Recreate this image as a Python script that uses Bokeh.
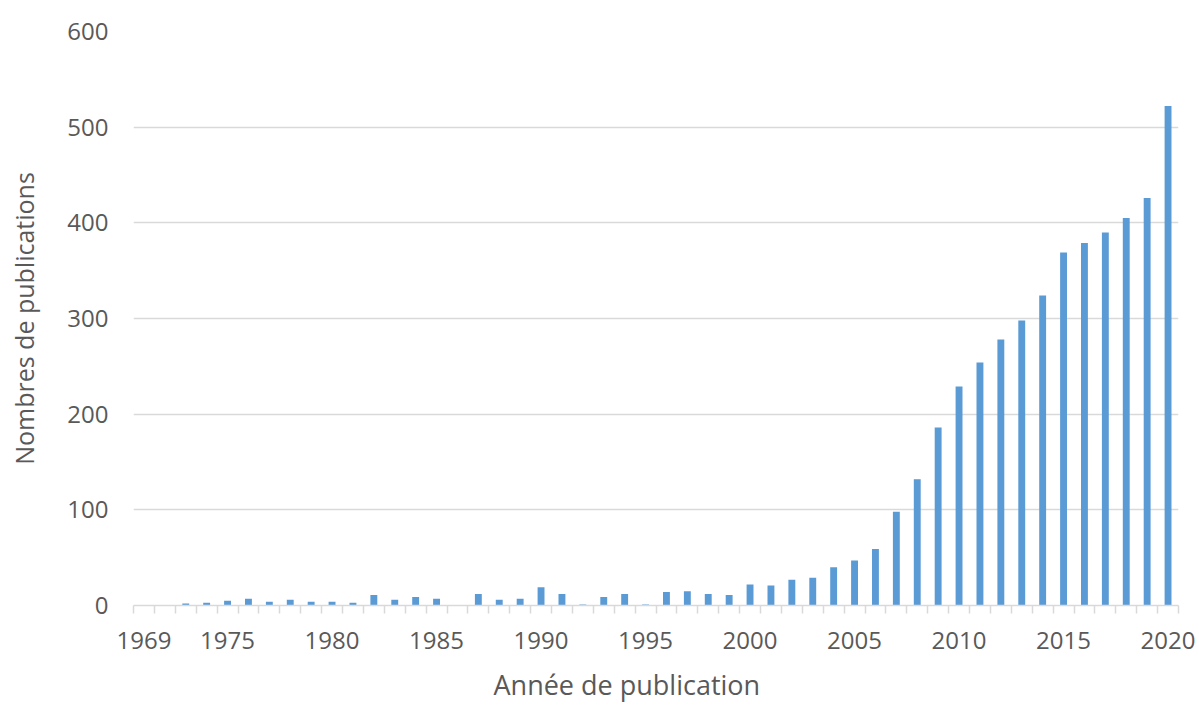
from bokeh.plotting import figure
from bokeh.models import Range1d, FixedTicker, ColumnDataSource, Title
from bokeh.embed import file_html
from bokeh.resources import INLINE

# ---- data ----
years = [1969, 1972, 1973, 1974, 1975, 1976, 1977, 1978, 1979, 1980,
         1981, 1982, 1983, 1984, 1985, 1986, 1987, 1988, 1989, 1990,
         1991, 1992, 1993, 1994, 1995, 1996, 1997, 1998, 1999, 2000,
         2001, 2002, 2003, 2004, 2005, 2006, 2007, 2008, 2009, 2010,
         2011, 2012, 2013, 2014, 2015, 2016, 2017, 2018, 2019, 2020]
counts = [0, 0, 2, 3, 5, 7, 4, 6, 4, 4,
          3, 11, 6, 9, 7, 0, 12, 6, 7, 19,
          12, 1, 9, 12, 1, 14, 15, 12, 11, 22,
          21, 27, 29, 40, 47, 59, 98, 132, 186, 229,
          254, 278, 298, 324, 369, 379, 390, 405, 426, 522]
labeled_years = [1969, 1975, 1980, 1985, 1990, 1995, 2000, 2005, 2010, 2015, 2020]
y_ticks = [0, 100, 200, 300, 400, 500, 600]

FONT = "Open Sans"
TXT = "#595959"
GRID = "#D9D9D9"
BAR = "#5B9BD5"

idx = list(range(len(years)))
src = ColumnDataSource(data=dict(x=idx, top=counts, year=[str(y) for y in years]))

p = figure(width=1195, height=714, output_backend="svg", toolbar_location=None,
           x_range=Range1d(-0.5, len(years) - 0.5), y_range=Range1d(0, 600),
           min_border_left=133, min_border_right=17, min_border_top=31,
           min_border_bottom=109)
p.outline_line_color = None
p.background_fill_color = "white"
p.border_fill_color = "white"

p.vbar(x="x", top="top", width=0.33, bottom=0, source=src, color=BAR, line_color=None)

# x axis
tick_pos = [years.index(y) for y in labeled_years]
p.xaxis.ticker = FixedTicker(ticks=tick_pos, minor_ticks=[i - 0.5 for i in range(len(years) + 1)])
p.xaxis.major_label_overrides = {i: str(years[i]) for i in tick_pos}
p.xaxis.major_tick_out = 0
p.xaxis.major_tick_in = 0
p.xaxis.minor_tick_out = 8
p.xaxis.minor_tick_in = 0
p.xaxis.minor_tick_line_color = GRID
p.xaxis.minor_tick_line_width = 1.5
p.xaxis.axis_line_color = GRID
p.xaxis.axis_line_width = 1.5
p.xaxis.major_label_text_font = FONT
p.xaxis.major_label_text_font_size = "24px"
p.xaxis.major_label_text_color = TXT
p.xaxis.major_label_standoff = 18
p.xgrid.grid_line_color = None

# x axis title (left of centre, as in the original)
p.add_layout(Title(text="Année de publication", align="left", offset=360,
                   vertical_align="bottom",
                   text_font=FONT, text_font_size="27px", text_font_style="normal",
                   text_color=TXT, standoff=24), "below")

# y axis
p.yaxis.ticker = FixedTicker(ticks=y_ticks)
p.yaxis.axis_line_color = None
p.yaxis.major_tick_line_color = None
p.yaxis.minor_tick_line_color = None
p.yaxis.major_tick_out = 0
p.yaxis.major_label_text_font = FONT
p.yaxis.major_label_text_font_size = "24px"
p.yaxis.major_label_text_color = TXT
p.yaxis.major_label_standoff = 25
p.yaxis.axis_label = "Nombres de publications"
p.yaxis.axis_label_text_font = FONT
p.yaxis.axis_label_text_font_size = "25px"
p.yaxis.axis_label_text_font_style = "normal"
p.yaxis.axis_label_text_color = TXT
p.yaxis.axis_label_standoff = 23
p.ygrid.grid_line_color = GRID
p.ygrid.grid_line_width = 1.5

open("out.html", "w").write(file_html(p, INLINE))
